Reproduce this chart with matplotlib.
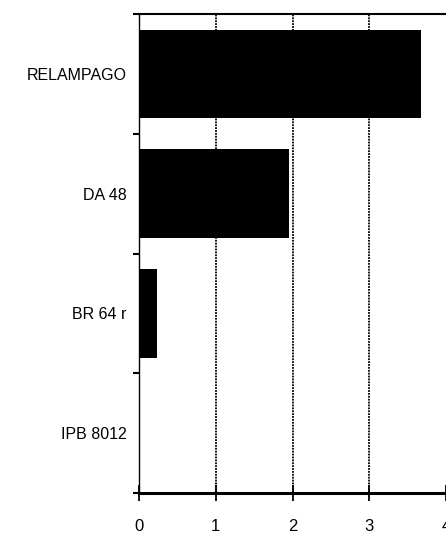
import numpy as np
import matplotlib.pyplot as plt

varieties = ['RELAMPAGO', 'DA 48', 'BR 64 r', 'IPB 8012']
values = [3.68, 1.95, 0.24, 0.0]
xticks = [0, 1, 2, 3, 4]

plt.rcParams['font.family'] = ['Liberation Sans', 'DejaVu Sans']

fig = plt.figure(figsize=(4.46, 5.4), dpi=100)
ax = fig.add_axes([139/446, 47/540, 307/446, 479/540])

y = np.arange(len(varieties))
ax.barh(y, values, height=0.74, color='black', zorder=3)
ax.set_ylim(len(varieties) - 0.5, -0.5)
ax.set_xlim(0, 4)

# dotted vertical grid
for xv in xticks[1:4]:
    ax.axvline(xv, color='black', lw=1.3, ls=(0, (1, 0.6)), zorder=1)

ax.set_yticks(y)
ax.set_yticklabels(varieties, fontsize=11.5)
ax.set_yticks(np.arange(len(varieties) + 1) - 0.5, minor=True)
ax.tick_params(axis='y', which='major', length=0, pad=9)
ax.tick_params(axis='y', which='minor', length=4, width=1.5, direction='out')

ax.set_xticks(xticks)
ax.set_xticklabels([str(v) for v in xticks], fontsize=12)
ax.tick_params(axis='x', length=12, width=1.3, direction='inout', pad=13)

ax.spines['right'].set_visible(False)
ax.spines['top'].set_linewidth(1.5)
ax.spines['bottom'].set_linewidth(2.2)
ax.spines['left'].set_linewidth(1.0)

fig.savefig('out.png', dpi=100)
